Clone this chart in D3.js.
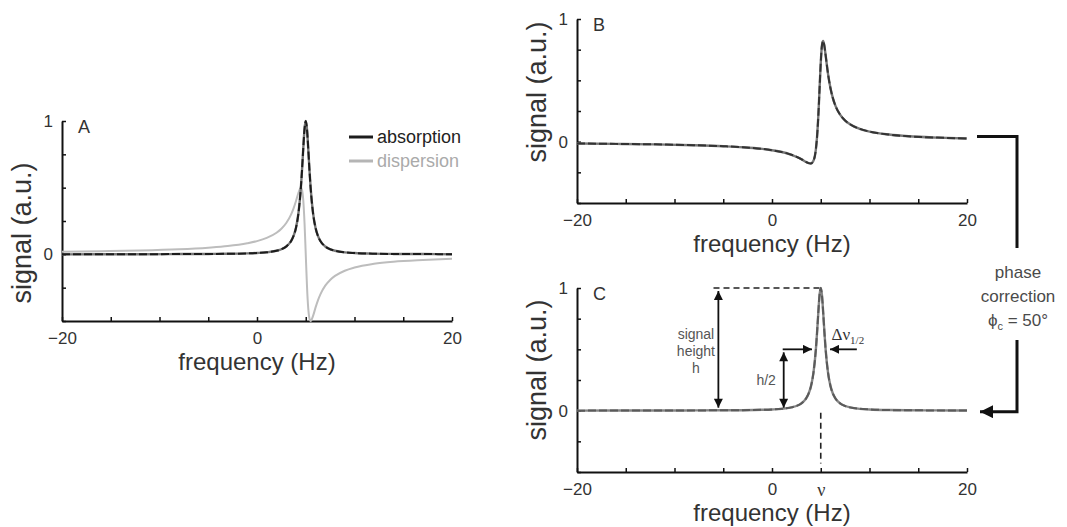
<!DOCTYPE html>
<html>
<head>
<meta charset="utf-8">
<script src="https://cdn.jsdelivr.net/npm/d3@7"></script>
<style>
  html, body { margin: 0; padding: 0; background: #fff; }
  svg { display: block; font-family: "Liberation Sans", Arial, Helvetica, sans-serif; }
</style>
</head>
<body>
<svg id="fig" width="1067" height="527"></svg>
<script>
// Frequency samples (Hz) and the line shapes sampled at them
const freqHz = [-20, -16, -12, -8, -5, -3, -1, 0, 1, 2, 2.5, 3, 3.5, 3.75, 4, 4.25, 4.5, 4.625, 4.75, 4.875,
                5, 5.125, 5.25, 5.375, 5.5, 5.75, 6, 6.25, 6.5, 7, 7.5, 8, 9, 10, 12, 14, 17, 20];
const absorption = [0.000, 0.001, 0.001, 0.002, 0.003, 0.004, 0.007, 0.010, 0.015, 0.027, 0.038, 0.059, 0.100, 0.138, 0.200, 0.308, 0.500, 0.640, 0.800, 0.941,
                    1.000, 0.941, 0.800, 0.640, 0.500, 0.308, 0.200, 0.138, 0.100, 0.059, 0.038, 0.027, 0.015, 0.010, 0.005, 0.003, 0.002, 0.001];
const dispersion = [0.020, 0.024, 0.029, 0.038, 0.050, 0.062, 0.083, 0.099, 0.123, 0.162, 0.192, 0.235, 0.300, 0.345, 0.400, 0.462, 0.500, 0.480, 0.400, 0.235,
                    0.000, -0.235, -0.400, -0.480, -0.500, -0.462, -0.400, -0.345, -0.300, -0.235, -0.192, -0.162, -0.123, -0.099, -0.071, -0.055, -0.042, -0.033];
// Uncorrected spectrum (mixed absorption / dispersion phase)
const mixedPhase = [-0.015, -0.018, -0.022, -0.029, -0.037, -0.045, -0.059, -0.070, -0.084, -0.107, -0.123, -0.142, -0.166, -0.175, -0.178, -0.156, -0.062, 0.044, 0.208, 0.425,
                    0.643, 0.785, 0.821, 0.779, 0.705, 0.551, 0.435, 0.353, 0.294, 0.218, 0.172, 0.142, 0.104, 0.082, 0.058, 0.044, 0.033, 0.026];

const xTickValues = [-20, -15, -10, -5, 0, 5, 10, 15, 20];
const xTickLabels = { "-20": "\u221220", "0": "0", "20": "20" };
const yTickValues = [-0.5, -0.25, 0, 0.25, 0.5, 0.75, 1];
const yTickLabels = { "0": "0", "1": "1" };
const legendLabels = ["absorption", "dispersion"];
const panelLetters = ["A", "B", "C"];
const peakFrequency = 5;
const peakSymbol = "\u03bd";
const phaseAngleDeg = 50;

const svg = d3.select("#fig");

// arrowheads
const defs = svg.append("defs");
function addMarker(id, w, h) {
  defs.append("marker")
    .attr("id", id)
    .attr("viewBox", "0 0 10 10")
    .attr("refX", 10).attr("refY", 5)
    .attr("markerUnits", "userSpaceOnUse")
    .attr("markerWidth", w).attr("markerHeight", h)
    .attr("orient", "auto-start-reverse")
    .append("path").attr("d", "M0,0L10,5L0,10Z").attr("fill", "#111");
}
addMarker("arrowSmall", 11, 9);
addMarker("arrowBig", 16, 13);

function series(values) { return freqHz.map((f, i) => [f, values[i]]); }

function makePanel(opt) {
  const x = d3.scaleLinear().domain([-20, 20]).range(opt.xRange);
  const y = d3.scaleLinear().domain([-0.5, 1]).range(opt.yRange);
  const g = svg.append("g");

  const labels = Object.assign({}, xTickLabels, opt.extraXLabels || {});
  const xa = g.append("g")
    .attr("transform", `translate(0,${y(-0.5)})`)
    .call(d3.axisBottom(x).tickValues(xTickValues).tickSizeInner(-4).tickSizeOuter(0).tickPadding(11)
      .tickFormat(d => labels[String(d)] || ""));
  const ya = g.append("g")
    .attr("transform", `translate(${x(-20)},0)`)
    .call(d3.axisLeft(y).tickValues(yTickValues).tickSizeInner(-4).tickSizeOuter(0).tickPadding(9)
      .tickFormat(d => yTickLabels[String(d)] || ""));
  [xa, ya].forEach(a => {
    a.attr("font-family", null).attr("font-size", null);
    a.select(".domain").attr("stroke", "#111").attr("stroke-width", 2);
    a.selectAll(".tick line").attr("stroke", "#111").attr("stroke-width", 1.5);
    a.selectAll(".tick text").attr("fill", "#333").style("font-size", "17px");
  });
  xa.selectAll(".tick text").filter(d => labels[String(d)] === peakSymbol)
    .style("font-family", "'Liberation Serif', 'DejaVu Serif', serif").style("font-size", "18px");

  // panel letter
  g.append("text").attr("x", x(-20) + 16).attr("y", y(1) + 12)
    .attr("fill", "#333").style("font-size", "18px").text(opt.letter);

  // axis titles
  g.append("text")
    .attr("x", (x(-20) + x(20)) / 2).attr("y", y(-0.5) + 49)
    .attr("text-anchor", "middle").attr("fill", "#333").style("font-size", "24px")
    .text("frequency (Hz)");
  g.append("text")
    .attr("transform", `translate(${x(-20) - 38},${opt.yTitleY}) rotate(-90)`)
    .attr("text-anchor", "middle").attr("dominant-baseline", "middle")
    .attr("fill", "#333").style("font-size", "27px")
    .text("signal (a.u.)");

  return { g, x, y };
}

function drawCurve(p, values, base, overlay, width) {
  const line = d3.line().x(d => p.x(d[0])).y(d => p.y(d[1])).curve(d3.curveMonotoneX);
  p.g.append("path").datum(series(values)).attr("d", line)
    .attr("fill", "none").attr("stroke", base).attr("stroke-width", width)
    .attr("stroke-linejoin", "round");
  if (overlay) {
    p.g.append("path").datum(series(values)).attr("d", line)
      .attr("fill", "none").attr("stroke", overlay).attr("stroke-width", width - 0.4)
      .attr("stroke-dasharray", "8,3").attr("stroke-linejoin", "round");
  }
}

// ---- Panel A: absorption and dispersion components ----
const pA = makePanel({ xRange: [62, 452], yRange: [321, 121], letter: panelLetters[0], yTitleY: 233 });
drawCurve(pA, dispersion, "#bdbdbd", null, 2);
drawCurve(pA, absorption, "#777", "#1c1c1c", 2.4);

const legendColors = ["#1c1c1c", "#b5b5b5"];
legendLabels.forEach((lab, i) => {
  const ly = 137 + i * 24;
  pA.g.append("line").attr("x1", 349).attr("x2", 373).attr("y1", ly).attr("y2", ly)
    .attr("stroke", legendColors[i]).attr("stroke-width", 3);
  pA.g.append("text").attr("x", 377).attr("y", ly + 6)
    .attr("fill", i === 0 ? "#222" : "#aaa").style("font-size", "18px").text(lab);
});

// ---- Panel B: spectrum before phase correction ----
const pB = makePanel({ xRange: [577, 967], yRange: [203, 19], letter: panelLetters[1], yTitleY: 92 });
drawCurve(pB, mixedPhase, "#777", "#333", 2.4);

// ---- Panel C: phase-corrected absorption line with annotations ----
const pC = makePanel({ xRange: [577, 967], yRange: [472, 288], letter: panelLetters[2], yTitleY: 370,
                       extraXLabels: { [String(peakFrequency)]: peakSymbol } });
const peakHeight = d3.max(absorption);
const xC = pC.x, yC = pC.y;

// dashed guides: peak height and peak position
pC.g.append("line").attr("x1", xC(-6)).attr("x2", xC(peakFrequency))
  .attr("y1", yC(peakHeight)).attr("y2", yC(peakHeight))
  .attr("stroke", "#222").attr("stroke-width", 1.6).attr("stroke-dasharray", "6,4");
pC.g.append("line").attr("x1", xC(peakFrequency)).attr("x2", xC(peakFrequency))
  .attr("y1", yC(0) + 2).attr("y2", yC(-0.43))
  .attr("stroke", "#222").attr("stroke-width", 1.6).attr("stroke-dasharray", "6,4");

drawCurve(pC, absorption, "#858585", "#5a5a5a", 2.4);

// signal height arrow
pC.g.append("line").attr("x1", xC(-5.5)).attr("x2", xC(-5.5))
  .attr("y1", yC(peakHeight) + 3).attr("y2", yC(0) - 3)
  .attr("stroke", "#111").attr("stroke-width", 1.8)
  .attr("marker-start", "url(#arrowSmall)").attr("marker-end", "url(#arrowSmall)");
["signal", "height", "h"].forEach((t, i) => {
  pC.g.append("text").attr("x", xC(-7.8)).attr("y", 339 + i * 17)
    .attr("text-anchor", "middle").attr("fill", "#555").style("font-size", "14px").text(t);
});

// half-height arrow
pC.g.append("line").attr("x1", xC(1.2)).attr("x2", xC(1.2))
  .attr("y1", yC(peakHeight / 2) + 3).attr("y2", yC(0) - 3)
  .attr("stroke", "#111").attr("stroke-width", 1.8)
  .attr("marker-start", "url(#arrowSmall)").attr("marker-end", "url(#arrowSmall)");
pC.g.append("text").attr("x", xC(-0.6)).attr("y", yC(0.25) + 5)
  .attr("text-anchor", "middle").attr("fill", "#555").style("font-size", "14px").text("h/2");

// linewidth arrows
pC.g.append("line").attr("x1", xC(1.2) - 1).attr("x2", xC(4.1))
  .attr("y1", yC(peakHeight / 2)).attr("y2", yC(peakHeight / 2))
  .attr("stroke", "#111").attr("stroke-width", 1.8).attr("marker-end", "url(#arrowSmall)");
pC.g.append("line").attr("x1", xC(8.7)).attr("x2", xC(5.95))
  .attr("y1", yC(peakHeight / 2)).attr("y2", yC(peakHeight / 2))
  .attr("stroke", "#111").attr("stroke-width", 1.8).attr("marker-end", "url(#arrowSmall)");
const dn = pC.g.append("text").attr("x", xC(6.1)).attr("y", yC(peakHeight / 2) - 9)
  .attr("fill", "#333").style("font-family", "'Liberation Serif', 'DejaVu Serif', serif").style("font-size", "17px");
dn.append("tspan").text("\u0394\u03bd");
dn.append("tspan").attr("dy", 4).style("font-size", "11px").text("1/2");

// ---- phase correction bracket linking B to C ----
const bx = 1017;
const yBend = pB.y(mixedPhase[mixedPhase.length - 1]) - 2;
const yEnd = pC.y(0) + 1;
svg.append("path")
  .attr("d", `M${pB.x(20) + 10},${yBend}H${bx}V248`)
  .attr("fill", "none").attr("stroke", "#111").attr("stroke-width", 3);
svg.append("path")
  .attr("d", `M${bx},340V${yEnd}H${pC.x(20) + 13}`)
  .attr("fill", "none").attr("stroke", "#111").attr("stroke-width", 3)
  .attr("marker-end", "url(#arrowBig)");
const pcText = svg.append("g").attr("fill", "#4a4a4a").style("font-size", "17px").attr("text-anchor", "middle");
pcText.append("text").attr("x", bx + 1).attr("y", 278).text("phase");
pcText.append("text").attr("x", bx + 1).attr("y", 302).text("correction");
const phi = pcText.append("text").attr("x", bx + 1).attr("y", 326);
phi.append("tspan").text("\u03d5");
phi.append("tspan").attr("dy", 4).style("font-size", "11px").text("c");
phi.append("tspan").attr("dy", -4).text(` = ${phaseAngleDeg}\u00b0`);
</script>
</body>
</html>
